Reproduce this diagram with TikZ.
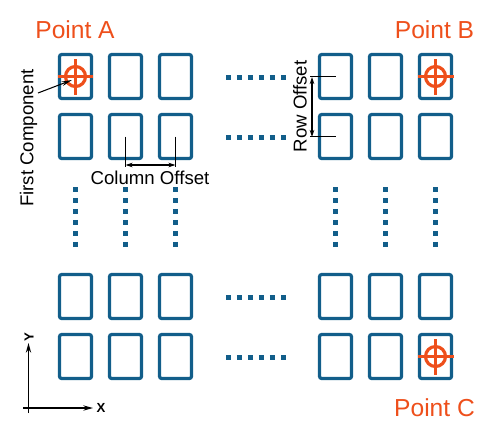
\documentclass[tikz,border=0pt]{standalone}
\usepackage{fontspec}
\setmainfont{Liberation Sans}
\usepackage{xcolor}
\usetikzlibrary{arrows.meta}
\definecolor{padc}{HTML}{125E8A}
\definecolor{pointc}{HTML}{EE4F1B}
\tikzset{
  pad/.style={draw=padc, line width=1.8pt, rounded corners=1.2pt, minimum width=0.64cm, minimum height=0.88cm, inner sep=0pt, outer sep=0pt},
  etc/.style={draw=padc, line width=2.84pt, dash pattern=on 3.12pt off 3.12pt},
  target/.style={draw=pointc, line width=1.8pt},
  pointlabel/.style={text=pointc, font=\fontsize{14}{16}\selectfont, inner sep=0pt},
  dimlabel/.style={font=\fontsize{10.6}{12}\selectfont, inner sep=0pt},
  axislabel/.style={font=\fontsize{7.5}{9}\selectfont\bfseries, inner sep=0pt},
  thin line/.style={draw=black, line width=0.6pt},
  dim/.style={thin line, {Stealth[length=4pt,width=2.6pt]}-{Stealth[length=4pt,width=2.6pt]}},
  axis/.style={thin line, line width=0.7pt, -{Stealth[length=5.5pt,width=3pt]}},
}
\begin{document}
\begin{tikzpicture}[x=0.02cm,y=-0.02cm]
\useasboundingbox (0,0) rectangle (493,437);
% pads
\foreach \cx/\px in {1/75.5,2/125.5,3/175.5,4/335.5,5/385.5,6/435.5} {
  \foreach \ry/\py in {1/76.5,2/136.5,3/296.5,4/356.5} {
    \node[pad] (pad-\cx-\ry) at (\px,\py) {};
  }
}
% rows and columns left out
\foreach \py in {77,137,297,357} {
  \draw[etc] (226,\py) -- (286.5,\py);
}
\foreach \px in {75.5,125.5,175.5,335.5,385.5,435.5} {
  \draw[etc] (\px,187) -- (\px,247.5);
}
% reference points
\foreach \padname in {pad-1-1,pad-6-1,pad-6-4} {
  \draw[target] (\padname) circle (10);
  \draw[target] ([xshift=-0.36cm]\padname.center) -- ([xshift=0.36cm]\padname.center);
  \draw[target] ([yshift=-0.36cm]\padname.center) -- ([yshift=0.36cm]\padname.center);
}
\node[pointlabel] (pointa) at (75,30) {Point A};
\node[pointlabel] (pointb) at (434.5,30) {Point B};
\node[pointlabel] (pointc) at (434.5,408) {Point C};
% first component
\node[dimlabel, rotate=90] (first) at (28.5,138) {First Component};
\coordinate (firstfrom) at (38,93);
\coordinate (firstto) at (72,80);
\draw[thin line, -{Stealth[length=6pt,width=2.6pt]}] (firstfrom) -- (firstto);
% column offset
\node[dimlabel] (coloff) at (150,178) {Column Offset};
\coordinate (cola) at (125.5,165);
\coordinate (colb) at (175.5,165);
\draw[thin line] (pad-2-2.center) -- ++(0,30);
\draw[thin line] (pad-3-2.center) -- ++(0,30);
\draw[dim] (cola) -- (colb);
% row offset
\node[dimlabel, rotate=90] (rowoff) at (300,106.5) {Row Offset};
\coordinate (rowa) at (312,77);
\coordinate (rowb) at (312,137);
\draw[thin line] (pad-4-1.center) -- ++(-25.5,0);
\draw[thin line] (pad-4-2.center) -- ++(-25.5,0);
\draw[dim] (rowa) -- (rowb);
% axes
\node[axislabel, rotate=90] (ylabel) at (29,337) {Y};
\node[axislabel] (xlabel) at (101,408) {X};
\coordinate (origx) at (23,408);
\coordinate (origy) at (28.5,413);
\coordinate (ytip) at (28.5,343);
\coordinate (xtip) at (93,408);
\draw[axis] (origy) -- (ytip);
\draw[axis] (origx) -- (xtip);
\end{tikzpicture}
\end{document}
